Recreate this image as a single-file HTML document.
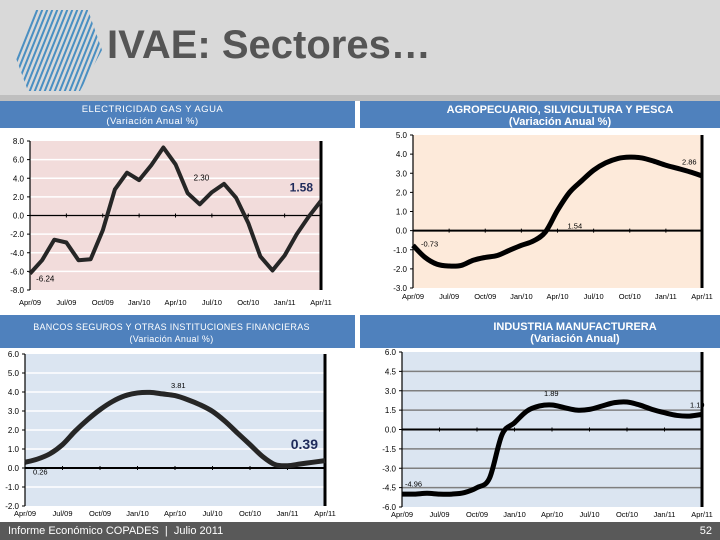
<!DOCTYPE html>
<html><head><meta charset="utf-8"><style>
body{margin:0;width:720px;height:540px;overflow:hidden;background:#fff;font-family:"Liberation Sans",sans-serif;position:relative}
.abs{position:absolute}
.bar{background:#4f81bd;color:#fff;text-align:center;font-size:10px;line-height:12px}
</style></head><body>
<div class="abs" style="left:0;top:0;width:720px;height:95px;background:#d9d9d9"></div>
<div class="abs" style="left:0;top:95px;width:720px;height:6px;background:#bfbfbf"></div>
<svg class="abs" style="left:10px;top:8px" width="95" height="85" viewBox="0 0 95 85">
<defs><clipPath id="hx"><polygon points="25,2 78,2 92,42 70,83 18,83 3,42"/></clipPath></defs>
<g clip-path="url(#hx)" stroke="#4a8fc2" stroke-width="2">
<line x1="-10" y1="95" x2="30" y2="-5"/><line x1="-5" y1="95" x2="35" y2="-5"/><line x1="0" y1="95" x2="40" y2="-5"/><line x1="5" y1="95" x2="45" y2="-5"/><line x1="10" y1="95" x2="50" y2="-5"/><line x1="15" y1="95" x2="55" y2="-5"/><line x1="20" y1="95" x2="60" y2="-5"/><line x1="25" y1="95" x2="65" y2="-5"/><line x1="30" y1="95" x2="70" y2="-5"/><line x1="35" y1="95" x2="75" y2="-5"/><line x1="40" y1="95" x2="80" y2="-5"/><line x1="45" y1="95" x2="85" y2="-5"/><line x1="50" y1="95" x2="90" y2="-5"/><line x1="55" y1="95" x2="95" y2="-5"/><line x1="60" y1="95" x2="100" y2="-5"/><line x1="65" y1="95" x2="105" y2="-5"/><line x1="70" y1="95" x2="110" y2="-5"/>
</g></svg>
<div class="abs" style="left:107px;top:23px;font-size:40px;font-weight:bold;color:#555">IVAE: Sectores…</div>

<div class="abs bar" style="left:0;top:101px;width:355px;height:27px;font-size:9.5px;letter-spacing:0.5px;padding:3px 50px 0 0;box-sizing:border-box">ELECTRICIDAD GAS Y AGUA<br>(Variación Anual %)</div>
<div class="abs bar" style="left:360px;top:101px;width:360px;height:27px;font-weight:bold;font-size:11px;padding:3px 0 0 40px;box-sizing:border-box">AGROPECUARIO, SILVICULTURA Y PESCA<br>(Variación Anual %)</div>
<div class="abs bar" style="left:0;top:315px;width:355px;height:33px;font-size:9px;letter-spacing:0.3px;padding:6px 12px 0 0;box-sizing:border-box">BANCOS SEGUROS Y OTRAS INSTITUCIONES FINANCIERAS<br>(Variación Anual %)</div>
<div class="abs bar" style="left:360px;top:315px;width:360px;height:33px;font-weight:bold;font-size:11px;padding:6px 0 0 70px;box-sizing:border-box">INDUSTRIA MANUFACTURERA<br>(Variación Anual)</div>
<div class="abs" style="left:0;top:522px;width:720px;height:18px;background:#595959;color:#fff;font-size:11px;line-height:18px"><span style="margin-left:8px">Informe Económico COPADES &nbsp;|&nbsp; Julio 2011</span><span style="position:absolute;right:8px">52</span></div>

<svg class="abs" id="cv" style="left:0;top:0" width="720" height="540"></svg>
<script>
const months=["Apr/09","Jul/09","Oct/09","Jan/10","Apr/10","Jul/10","Oct/10","Jan/11","Apr/11"];
const elecValues=[-6.24,-4.8,-2.6,-2.9,-4.8,-4.7,-1.6,2.8,4.6,3.8,5.4,7.3,5.5,2.4,1.2,2.5,3.4,1.9,-0.8,-4.4,-5.9,-4.3,-2.0,-0.1,1.58];
const elecTicks=[8,6,4,2,0,-2,-4,-6,-8];
const agroValues=[-0.77,-1.4,-1.76,-1.85,-1.82,-1.55,-1.4,-1.3,-1.03,-0.77,-0.54,-0.07,1.06,2.0,2.6,3.16,3.54,3.77,3.84,3.8,3.63,3.42,3.25,3.07,2.86];
const agroTicks=[5,4,3,2,1,0,-1,-2,-3];
const bancoValues=[0.3,0.47,0.75,1.23,1.93,2.54,3.07,3.5,3.8,3.95,3.98,3.9,3.81,3.6,3.33,2.98,2.46,1.84,1.23,0.61,0.18,0.12,0.21,0.3,0.39];
const bancoTicks=[6,5,4,3,2,1,0,-1,-2];
const indValues=[-5.0,-5.0,-4.94,-5.0,-5.0,-4.88,-4.5,-3.77,-0.4,0.52,1.43,1.82,1.9,1.69,1.5,1.56,1.82,2.08,2.13,1.9,1.56,1.3,1.09,1.04,1.17];
const indTicks=[6,4.5,3,1.5,0,-1.5,-3,-4.5,-6];

const svg=document.getElementById('cv');
const NS='http://www.w3.org/2000/svg';
function mk(t,a){const e=document.createElementNS(NS,t);for(const k in a)e.setAttribute(k,a[k]);svg.appendChild(e);return e;}
function txt(x,y,s,size,anchor,fill,weight){const e=mk('text',{x:x,y:y,'font-size':size,'text-anchor':anchor||'start',fill:fill||'#000','font-family':'Liberation Sans, sans-serif','font-weight':weight||'normal'});e.textContent=s;return e;}
function chart(o){
  const {name,x0,x1,yTop,yBot,ticks,values,fill,grid,smooth,lineColor,lw,xLabY,dec}=o;
  const vmax=ticks[0],vmin=ticks[ticks.length-1];
  const xs=i=>x0+(x1-x0)*i/(values.length-1);
  const ys=v=>yTop+(vmax-v)/(vmax-vmin)*(yBot-yTop);
  const bg=mk('rect',{x:x0,y:yTop,width:x1-x0,height:yBot-yTop,fill:fill});
  
  
  ticks.forEach(t=>{
    if(t!==0&&t!==vmax&&t!==vmin){const g=mk('line',{x1:x0,x2:x1,y1:ys(t),y2:ys(t),stroke:grid,'stroke-width':1.5});
      
      }
    const l=txt(x0-6,ys(t)+3,t.toFixed(dec),8,'end');
    
    
    mk('line',{x1:x0-3,x2:x0,y1:ys(t),y2:ys(t),stroke:'#000'});
  });
  const z=mk('line',{x1:x0,x2:x1,y1:ys(0),y2:ys(0),stroke:'#000','stroke-width':smooth?2:1.2});
  
  
  const ax=mk('line',{x1:x0,x2:x0,y1:yTop,y2:yBot,stroke:'#000','stroke-width':1.2});
  
  
  const rb=mk('line',{x1:x1,x2:x1,y1:yTop,y2:yBot,stroke:'#000','stroke-width':3});
  
  
  months.forEach((m,i)=>{
    const x=x0+(x1-x0)*i/(months.length-1);
    mk('line',{x1:x,x2:x,y1:ys(0)-2,y2:ys(0)+2,stroke:'#000'});
    const l=txt(x,xLabY,m,7.5,'middle');
    
    
  });
  const P=values.map((v,i)=>[xs(i),ys(v)]);
  let d='M'+P[0][0]+','+P[0][1];
  for(let i=1;i<P.length;i++){
    if(!smooth){d+=' L'+P[i][0]+','+P[i][1];continue;}
    const p0=P[Math.max(i-2,0)],p1=P[i-1],p2=P[i],p3=P[Math.min(i+1,P.length-1)];
    d+=' C'+(p1[0]+(p2[0]-p0[0])/6)+','+(p1[1]+(p2[1]-p0[1])/6)+' '+(p2[0]-(p3[0]-p1[0])/6)+','+(p2[1]-(p3[1]-p1[1])/6)+' '+p2[0]+','+p2[1];
  }
  const ln=mk('path',{d:d,fill:'none',stroke:lineColor,'stroke-width':lw,'stroke-linejoin':'round'});
  
  
  return {xs,ys};
}
let c=chart({name:'electricidad',x0:30,x1:321,yTop:141,yBot:290,ticks:elecTicks,values:elecValues,fill:'#f2dcdb',grid:'#fff',smooth:false,lineColor:'#262626',lw:4,xLabY:305,dec:1});
let t=txt(c.xs(1)-6,c.ys(elecValues[0])+8,elecValues[0].toFixed(2),8);
t=txt(c.xs(13)+6,c.ys(4)+2,'2.30',8);
t=txt(c.xs(24)-8,c.ys(2.6),elecValues[24].toFixed(2),12,'end','#1f2a5a','bold');

c=chart({name:'agropecuario',x0:413,x1:702,yTop:135,yBot:288,ticks:agroTicks,values:agroValues,fill:'#fdeada',grid:'#fdeada',smooth:true,lineColor:'#000',lw:5,xLabY:299,dec:1});
t=txt(c.xs(1)-4,c.ys(-0.73)+2,'-0.73',7.5);
t=txt(c.xs(13)-2,c.ys(0.1),'1.54',7.5);
t=txt(c.xs(23)-8,c.ys(3.45),'2.86',7.5);

c=chart({name:'bancos',x0:25,x1:325,yTop:354,yBot:506,ticks:bancoTicks,values:bancoValues,fill:'#dbe5f1',grid:'#fff',smooth:true,lineColor:'#262626',lw:5,xLabY:516,dec:1});
t=txt(c.xs(0)+8,c.ys(-0.35),'0.26',7.5);
t=txt(c.xs(12)-4,c.ys(4.2),'3.81',7.5);
t=txt(c.xs(24)-7,c.ys(1.0),'0.39',14,'end','#1f2a5a','bold');

c=chart({name:'industria',x0:402,x1:702,yTop:352,yBot:507,ticks:indTicks,values:indValues,fill:'#dbe5f1',grid:'#7f7f7f',smooth:true,lineColor:'#000',lw:5,xLabY:517,dec:1});
t=txt(c.xs(0)+3,c.ys(-4.4),'-4.96',7.5);
t=txt(c.xs(12)-8,c.ys(2.6),'1.89',7.5);
t=txt(c.xs(24)-12,c.ys(1.7),'1.19',7.5);
</script>
</body></html>
